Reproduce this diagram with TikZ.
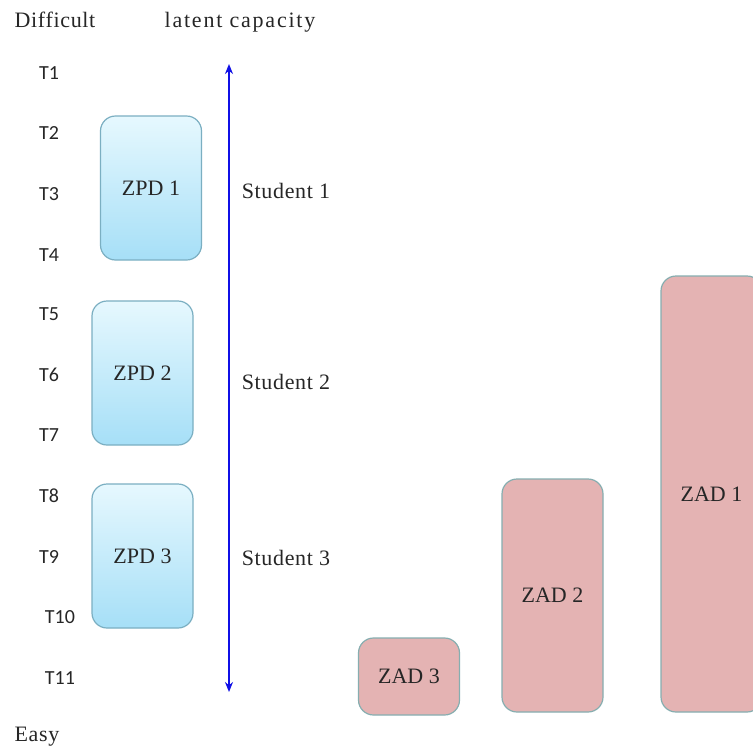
\documentclass[tikz,border=0pt]{standalone}
\usepackage{fontspec}
\setmainfont{Liberation Serif}
\newfontfamily\spacedserif[LetterSpace=3]{Liberation Serif}
\newfontfamily\widerserif[LetterSpace=8]{Liberation Serif}
\newfontfamily\tlabelfont{Carlito}
\usetikzlibrary{arrows.meta}

\definecolor{zpdtop}{HTML}{E6F8FE}
\definecolor{zpdbot}{HTML}{A6DFF7}
\definecolor{zpdedge}{HTML}{7BAFC2}
\definecolor{zadfill}{HTML}{E4B3B3}
\definecolor{zadedge}{HTML}{86AEB0}
\definecolor{axisblue}{HTML}{1010E6}

\tikzset{
  serif/.style={font=\spacedserif\fontsize{22}{26}\selectfont, inner sep=0pt, text=black!85},
  tlabel/.style={font=\tlabelfont\fontsize{20}{24}\selectfont, inner sep=0pt, text=black!85},
  zpdbox/.style={draw=zpdedge, line width=1.2pt, rounded corners=15pt,
    top color=zpdtop, bottom color=zpdbot, minimum width=101pt,
    minimum height=144pt, inner sep=0pt, text=black!85,
    font=\fontsize{22}{26}\selectfont},
  zadbox/.style={draw=zadedge, line width=1.2pt, rounded corners=15pt,
    fill=zadfill, minimum width=101pt, inner sep=0pt, text=black!85,
    font=\fontsize{22}{26}\selectfont},
  axis/.style={axisblue, line width=2.8pt,
    {Stealth[length=10pt,width=8pt]}-{Stealth[length=10pt,width=8pt]}}
}

\begin{document}
\begin{tikzpicture}[x=1pt, y=-1pt]
  \clip (0,0) rectangle (753,750);
  \fill[white] (0,0) rectangle (753,750);

  % header and footer labels
  \node[serif] (difficult) at (55,20) {Difficult};
  \node[serif, font=\widerserif\fontsize{22}{26}\selectfont] (latent) at (240,22) {latent capacity};
  \node[serif] (easy) at (37,737) {Easy};

  % task levels
  \node[tlabel] (t1)  at (49,73)  {T1};
  \node[tlabel] (t2)  at (49,133) {T2};
  \node[tlabel] (t3)  at (49,194) {T3};
  \node[tlabel] (t4)  at (49,255) {T4};
  \node[tlabel] (t5)  at (49,314) {T5};
  \node[tlabel] (t6)  at (49,375) {T6};
  \node[tlabel] (t7)  at (49,435) {T7};
  \node[tlabel] (t8)  at (49,496) {T8};
  \node[tlabel] (t9)  at (49,557) {T9};
  \node[tlabel] (t10) at (60,617) {T10};
  \node[tlabel] (t11) at (60,678) {T11};

  % latent capacity axis
  \coordinate (axtop) at (229,64);
  \coordinate (axbot) at (229,692);
  \draw[axis] (axbot) -- (axtop);

  % zones of proximal development
  \node[zpdbox] (zpd1) at (151,188) {ZPD 1};
  \node[zpdbox] (zpd2) at (142.5,373) {ZPD 2};
  \node[zpdbox] (zpd3) at (142.5,556) {ZPD 3};

  % students
  \node[serif] (s1) at (286,191) {Student 1};
  \node[serif] (s2) at (286,382) {Student 2};
  \node[serif] (s3) at (286,558) {Student 3};

  % zones of actual development
  \node[zadbox, minimum height=77pt]  (zad3) at (409,676.5) {ZAD 3};
  \node[zadbox, minimum height=233pt] (zad2) at (552.5,595.5) {ZAD 2};
  \node[zadbox, minimum height=436pt] (zad1) at (711.5,494) {ZAD 1};
\end{tikzpicture}
\end{document}
